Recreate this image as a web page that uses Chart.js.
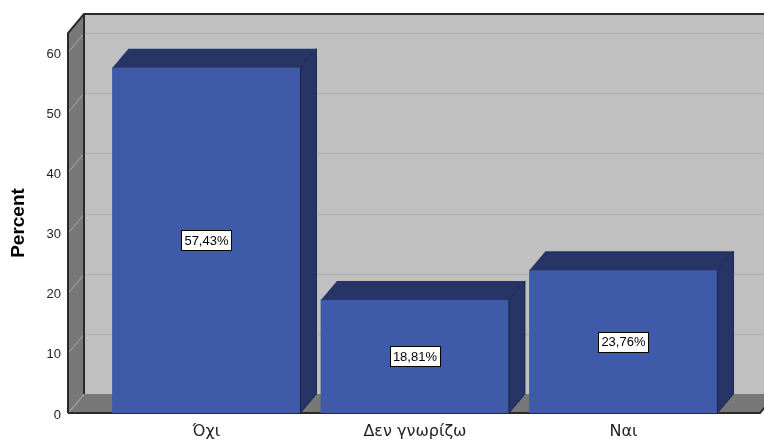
<!DOCTYPE html>
<html>
<head>
<meta charset="utf-8">
<title>Percent</title>
<script src="https://cdn.jsdelivr.net/npm/chart.js@4/dist/chart.umd.min.js"></script>
<style>
  body { margin: 0; background: #fff; }
  canvas { display: block; }
</style>
</head>
<body>
<canvas id="bars" width="764" height="441"></canvas>
<script>
// answers and their share of respondents
const categories = ['Όχι', 'Δεν γνωρίζω', 'Ναι'];
const percents = [57.43, 18.81, 23.76];
const yTicks = [0, 10, 20, 30, 40, 50, 60];

// depth of the 3D box (walls and bars share it)
const DX = 16, DY = -19;

function fmt(v) {
    return v.toFixed(2).replace('.', ',') + '%';
}

const box3d = {
    id: 'box3d',
    beforeDatasetsDraw(chart) {
        const ctx = chart.ctx;
        const a = chart.chartArea;
        const y = chart.scales.y;
        const W = chart.width;
        ctx.save();
        // back wall
        ctx.fillStyle = '#c0c0c0';
        ctx.fillRect(a.left + DX, a.top + DY, W, a.bottom - a.top);
        // left wall
        ctx.fillStyle = '#787878';
        ctx.beginPath();
        ctx.moveTo(a.left, a.top);
        ctx.lineTo(a.left + DX, a.top + DY);
        ctx.lineTo(a.left + DX, a.bottom + DY);
        ctx.lineTo(a.left, a.bottom);
        ctx.closePath();
        ctx.fill();
        // floor
        ctx.beginPath();
        ctx.moveTo(a.left, a.bottom);
        ctx.lineTo(a.left + DX, a.bottom + DY);
        ctx.lineTo(W + DX, a.bottom + DY);
        ctx.lineTo(a.right, a.bottom);
        ctx.closePath();
        ctx.fill();
        // grid lines: across the back wall and slanted on the side wall
        yTicks.forEach(t => {
            const py = Math.round(y.getPixelForValue(t)) + 0.5;
            if (t > 0) {
                ctx.strokeStyle = '#b2b2b2';
                ctx.lineWidth = 1.5;
                ctx.beginPath();
                ctx.moveTo(a.left + DX, py + DY);
                ctx.lineTo(W, py + DY);
                ctx.stroke();
            }
            ctx.strokeStyle = '#a8a8a8';
            ctx.lineWidth = 1;
            ctx.beginPath();
            ctx.moveTo(a.left, py);
            ctx.lineTo(a.left + DX, py + DY);
            ctx.stroke();
        });
        // edges
        ctx.strokeStyle = '#2a2a2a';
        ctx.lineWidth = 2;
        ctx.beginPath();
        ctx.moveTo(a.left, a.bottom);
        ctx.lineTo(a.left, a.top);
        ctx.lineTo(a.left + DX, a.top + DY);
        ctx.lineTo(W, a.top + DY);
        ctx.moveTo(a.left + DX, a.top + DY);
        ctx.lineTo(a.left + DX, a.bottom + DY);
        ctx.moveTo(a.left, a.bottom);
        ctx.lineTo(a.right, a.bottom);
        ctx.lineTo(a.right + DX, a.bottom + DY);
        ctx.stroke();
        ctx.restore();
    },
    afterDatasetsDraw(chart) {
        const ctx = chart.ctx;
        const meta = chart.getDatasetMeta(0);
        ctx.save();
        meta.data.forEach((bar, i) => {
            const p = bar.getProps(['x', 'y', 'base', 'width'], true);
            const l = p.x - p.width / 2, r = p.x + p.width / 2;
            ctx.fillStyle = '#263566';
            // top face
            ctx.beginPath();
            ctx.moveTo(l, p.y);
            ctx.lineTo(l + DX, p.y + DY);
            ctx.lineTo(r + DX, p.y + DY);
            ctx.lineTo(r, p.y);
            ctx.closePath();
            ctx.fill();
            // side face
            ctx.beginPath();
            ctx.moveTo(r, p.y);
            ctx.lineTo(r + DX, p.y + DY);
            ctx.lineTo(r + DX, p.base + DY);
            ctx.lineTo(r, p.base);
            ctx.closePath();
            ctx.fill();
            ctx.strokeStyle = '#1b2550';
            ctx.lineWidth = 1;
            ctx.stroke();

            // value label box
            const txt = fmt(percents[i]);
            ctx.font = '13px "Liberation Sans", Arial, sans-serif';
            const tw = ctx.measureText(txt).width;
            const bw = Math.round(tw + 6), bh = 20;
            const cy = (p.y + p.base) / 2;
            const bx = Math.round(p.x - bw / 2) + 0.5, by = Math.round(cy - bh / 2) + 0.5;
            ctx.fillStyle = '#ffffff';
            ctx.fillRect(bx, by, bw, bh);
            ctx.strokeStyle = '#000000';
            ctx.strokeRect(bx, by, bw, bh);
            ctx.fillStyle = '#000000';
            ctx.textAlign = 'center';
            ctx.textBaseline = 'middle';
            ctx.fillText(txt, p.x, cy + 1);
        });
        ctx.restore();
    }
};

const ctx = document.getElementById('bars');
new Chart(ctx, {
    type: 'bar',
    data: {
        datasets: [{
            data: percents.map((v, i) => ({ x: i, y: v })),
            backgroundColor: '#3e5aa8',
            borderWidth: 0,
            barThickness: 188
        }]
    },
    plugins: [box3d],
    options: {
        responsive: false,
        animation: false,
        devicePixelRatio: 1,
        layout: { padding: { top: 33, right: 4, left: 0, bottom: 0 } },
        plugins: {
            legend: { display: false },
            tooltip: { enabled: false }
        },
        scales: {
            x: {
                type: 'linear',
                offset: false,
                min: -0.664,
                max: 2.655,
                grid: { display: false, drawTicks: false, offset: false },
                border: { display: false },
                afterBuildTicks: s => { s.ticks = categories.map((c, i) => ({ value: i })); },
                afterFit: s => { s.height = 28; },
                ticks: {
                    padding: 9,
                    maxRotation: 0,
                    autoSkip: false,
                    color: '#222222',
                    font: { family: '"DejaVu Sans", sans-serif', size: 16 },
                    callback: v => categories[v]
                }
            },
            y: {
                min: 0,
                max: 63.2,
                grid: { display: false, drawTicks: false },
                border: { display: false },
                afterBuildTicks: s => { s.ticks = yTicks.map(v => ({ value: v })); },
                afterFit: s => { s.width = 68; },
                title: {
                    display: true,
                    text: 'Percent',
                    color: '#000000',
                    padding: { top: 7, bottom: 0 },
                    font: { family: '"Liberation Sans", Arial, sans-serif', size: 19, weight: 'bold' }
                },
                ticks: {
                    padding: 7,
                    labelOffset: 2,
                    color: '#222222',
                    font: { family: '"Liberation Sans", Arial, sans-serif', size: 13 }
                }
            }
        }
    }
});
</script>
</body>
</html>
